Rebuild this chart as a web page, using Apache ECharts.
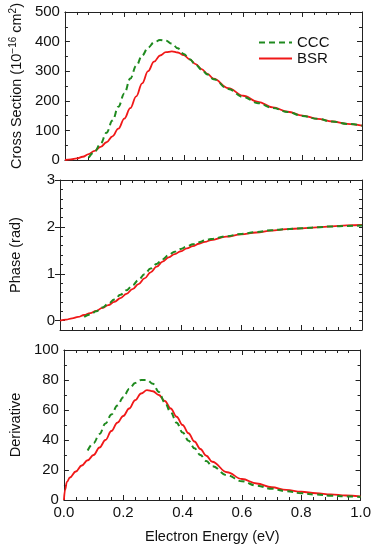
<!DOCTYPE html>
<html>
<head>
<meta charset="utf-8">
<script src="https://cdn.jsdelivr.net/npm/echarts@6/dist/echarts.min.js"></script>
<style>
html,body{margin:0;padding:0;background:#fff;}
#chart{width:374px;height:549px;}
</style>
</head>
<body>
<div id="chart"></div>
<script>
// ---- data ----
const energyBSR = [0,0.02,0.04,0.06,0.08,0.10,0.12,0.14,0.16,0.18,0.20,0.22,0.24,0.26,0.28,0.30,0.32,0.34,0.36,0.38,0.40,0.42,0.44,0.46,0.48,0.50,0.55,0.60,0.65,0.70,0.75,0.80,0.85,0.90,0.95,1.00];
const energyCCC = [0.08,0.10,0.12,0.14,0.16,0.18,0.20,0.22,0.24,0.26,0.28,0.30,0.32,0.34,0.36,0.38,0.40,0.42,0.44,0.46,0.48,0.50,0.55,0.60,0.65,0.70,0.75,0.80,0.85,0.90,0.95,1.00];
const energyDerivBSR = [0,0.004,0.01,0.02,0.04,0.06,0.08,0.10,0.12,0.14,0.16,0.18,0.20,0.22,0.24,0.26,0.28,0.30,0.32,0.34,0.36,0.38,0.40,0.42,0.44,0.46,0.48,0.50,0.55,0.60,0.65,0.70,0.75,0.80,0.85,0.90,0.95,1.00];

const crossBSR = [0,2,5.5,11,20,31,44,60,80,106,140,175,215,259,300,332,353,364,367,363,354,340,324,307,291,275,243,217,196,178,163,150,139,130,122,116];
const crossCCC = [8,28,55,92,133,180,225,275,318,353,380,397,405,403,393,377,358,340,322,305,289,273,240,213,192,176,162,149,139,130,122,116];

const phaseBSR = [0,0.02,0.05,0.08,0.12,0.16,0.21,0.27,0.33,0.40,0.48,0.57,0.67,0.78,0.90,1.03,1.15,1.26,1.35,1.42,1.48,1.54,1.59,1.64,1.68,1.72,1.79,1.84,1.88,1.92,1.95,1.97,1.99,2.01,2.03,2.04];
const phaseCCC = [0.08,0.13,0.20,0.28,0.36,0.45,0.55,0.65,0.75,0.87,0.99,1.11,1.21,1.31,1.40,1.47,1.53,1.58,1.63,1.67,1.71,1.74,1.80,1.85,1.89,1.93,1.95,1.97,1.99,2.01,2.02,2.03];

const derivBSR = [0,7,12,15,19,23,26.5,30,35,40,46,51.5,56,61,66.5,71,73.3,72.5,70,66,61,55.5,50,44.5,39,34,29.5,25.5,18.5,14,11,8.5,6.8,5.5,4.5,3.7,3,2.4];
const derivCCC = [33,38,44,51,57,63,68.5,74,78,80,80,77.5,72,65,58.5,51.5,45,39.5,34.5,30,26,22.5,16.5,12.5,9.5,7.5,5.8,4.5,3.6,2.9,2.4,2];

const seriesNames = ['CCC','BSR'];
const xTickLabels = ['0.0','0.2','0.4','0.6','0.8','1.0'];
const phaseMajorTicks = [0,1,2,3];
const yTitles = ['Cross Section (10{sup|\u221216} cm{sup|2})','Phase (rad)','Derivative'];
const xTitle = 'Electron Energy (eV)';

// ---- styling / construction ----
const FONT = '"Liberation Sans", Arial, Helvetica, sans-serif';
const AX = '#222';
const RED = '#f01818';
const GREEN = '#1f8a1f';
const TICK_FS = 15;
const TITLE_FS = 14.5;

const grids = [
  {left:60, right:12, top:10, height:150},
  {left:60, right:12, top:180, height:150},
  {left:60, right:12, top:350, height:150}
];

function xAxisFor(g, pos, withLabels){
  return {
    type:'value', gridIndex:g, position:pos, min:0, max:1, interval:0.2,
    axisLine:{show:true, onZero:false, lineStyle:{color:AX, width:1}},
    axisTick:{show:true, inside:true, length:5, lineStyle:{color:AX, width:1}},
    minorTick:{show:true, splitNumber:5, length:3, lineStyle:{color:AX, width:1}},
    splitLine:{show:false},
    axisLabel:{show:withLabels, margin:5, color:'#111', fontSize:TICK_FS, fontFamily:FONT,
      formatter:function(v){ return xTickLabels[Math.round(v/0.2)]; }},
    name: withLabels ? xTitle : '', nameLocation:'middle', nameGap:29,
    nameTextStyle:{fontSize:TITLE_FS, color:'#111', fontFamily:FONT}
  };
}
function yAxisFor(g, pos, min, max, interval, minorSplit, withLabels, title, nameGap, opts){
  const a = {
    type:'value', gridIndex:g, position:pos, min:min, max:max, interval:interval,
    axisLine:{show:true, onZero:false, lineStyle:{color:AX, width:1}},
    axisTick:{show:true, inside:true, length:5, lineStyle:{color:AX, width:1}},
    minorTick:{show:minorSplit>0, splitNumber:minorSplit||1, length:3, lineStyle:{color:AX, width:1}},
    splitLine:{show:false},
    axisLabel:{show:withLabels, margin:5, color:'#111', fontSize:TICK_FS, fontFamily:FONT},
    name: title || '', nameLocation:'middle', nameGap:nameGap||40,
    nameTextStyle:{fontSize:TITLE_FS, color:'#111', fontFamily:FONT,
      rich:{sup:{fontSize:10, color:'#111', fontFamily:FONT, padding:[0,0,7,0]}}}
  };
  if (opts) Object.assign(a, opts);
  return a;
}

const xAxes = [];
const yAxes = [];
for (let g=0; g<3; g++){
  xAxes.push(xAxisFor(g,'bottom', g===2));
  xAxes.push(xAxisFor(g,'top', false));
}
// grid 0: cross section
yAxes.push(yAxisFor(0,'left',0,500,100,2,true,yTitles[0],39));
yAxes.push(yAxisFor(0,'right',0,500,100,2,false));
// grid 1: phase (axis starts at -0.2)
yAxes.push(yAxisFor(1,'left',-0.2,3,0.2,0,false,yTitles[1],37,{axisTick:{show:true,inside:true,length:3,lineStyle:{color:AX}}}));
yAxes.push(yAxisFor(1,'right',-0.2,3,0.2,0,false,'',0,{axisTick:{show:true,inside:true,length:3,lineStyle:{color:AX}}}));
yAxes.push(yAxisFor(1,'left',-0.2,3,null,0,true,'',0,{
  axisLine:{show:false},
  axisTick:{show:true,inside:true,length:5,customValues:phaseMajorTicks,lineStyle:{color:AX}},
  axisLabel:{show:true,margin:5,color:'#111',fontSize:TICK_FS,fontFamily:FONT,customValues:phaseMajorTicks}
}));
yAxes.push(yAxisFor(1,'right',-0.2,3,null,0,false,'',0,{
  axisLine:{show:false},
  axisTick:{show:true,inside:true,length:5,customValues:phaseMajorTicks,lineStyle:{color:AX}}
}));
// grid 2: derivative
yAxes.push(yAxisFor(2,'left',0,100,20,2,true,yTitles[2],34));
yAxes.push(yAxisFor(2,'right',0,100,20,2,false));

function pairs(xs, ys){ return xs.map((x,i)=>[x, ys[i]]); }
function line(name, g, yIdx, xs, ys){
  const isCCC = name === 'CCC';
  return {
    name:name, type:'line', xAxisIndex:2*g, yAxisIndex:yIdx,
    data:pairs(xs, ys), smooth:0.4, smoothMonotone:'x',
    symbol:'none', showSymbol:false, silent:true, animation:false,
    z: isCCC ? 3 : 2,
    lineStyle:{color: isCCC?GREEN:RED, width: isCCC?2:1.8, type: isCCC?[6,4]:'solid'},
    itemStyle:{color: isCCC?GREEN:RED}
  };
}

const option = {
  animation:false,
  backgroundColor:'#fff',
  grid:grids,
  legend:{
    data:seriesNames, orient:'vertical', left:253, top:30,
    itemWidth:33, itemHeight:10, itemGap:1,
    itemStyle:{opacity:0},
    textStyle:{fontSize:15, color:'#111', fontFamily:FONT}
  },
  xAxis:xAxes,
  yAxis:yAxes,
  series:[
    line('CCC',0,0,energyCCC,crossCCC),
    line('BSR',0,0,energyBSR,crossBSR),
    line('CCC',1,2,energyCCC,phaseCCC),
    line('BSR',1,2,energyBSR,phaseBSR),
    line('CCC',2,6,energyCCC,derivCCC),
    line('BSR',2,6,energyDerivBSR,derivBSR)
  ]
};

const chart = echarts.init(document.getElementById('chart'), null, {renderer:'canvas'});
chart.setOption(option);
</script>
</body>
</html>
